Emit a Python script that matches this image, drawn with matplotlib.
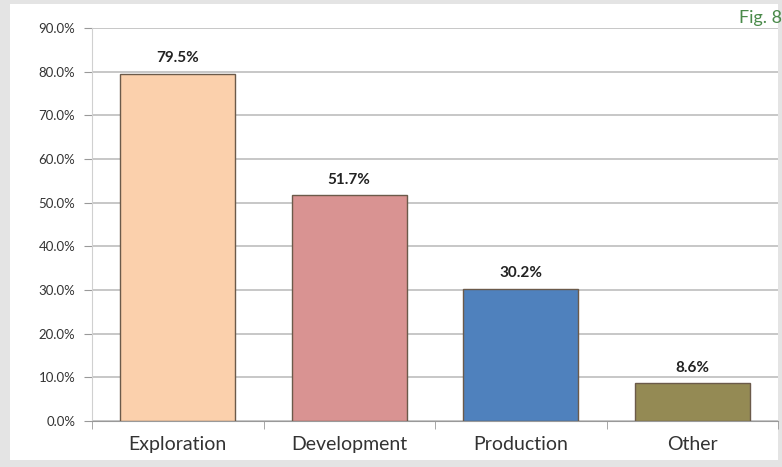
import matplotlib.pyplot as plt
from matplotlib.patches import Rectangle
from matplotlib.ticker import FuncFormatter, MultipleLocator

categories = ["Exploration", "Development", "Production", "Other"]
values = [79.5, 51.7, 30.2, 8.6]
colors = ["#FBD0AC", "#D99392", "#4F81BD", "#948A54"]

plt.rcParams['font.family'] = ['Lato', 'DejaVu Sans']

fig = plt.figure(figsize=(7.82, 4.67), dpi=100)
fig.patch.set_facecolor("#e4e4e4")
# white panel the chart sits on
fig.patches.append(Rectangle((10 / 782, 7 / 467), 768 / 782, 456 / 467,
                             transform=fig.transFigure, facecolor="white",
                             edgecolor="none", zorder=0))

ax = fig.add_axes([92 / 782, 46 / 467, 686 / 782, 393 / 467])
ax.set_facecolor("white")
ax.set_zorder(1)

x = range(len(categories))
ax.bar(x, values, width=0.67, color=colors, edgecolor="#6b5a4a",
       linewidth=1.0, zorder=3)

for i, v in zip(x, values):
    ax.text(i, v + 2.0, "%.1f%%" % v, ha="center", va="bottom",
            fontsize=11, fontweight="bold", color="#222222")

ax.set_xlim(-0.5, len(categories) - 0.5)
ax.set_ylim(0, 90)
ax.yaxis.set_major_locator(MultipleLocator(10))
ax.yaxis.set_major_formatter(FuncFormatter(lambda v, p: "%.1f%%" % v))
ax.grid(axis="y", color="#b8b8b8", linewidth=1.1, zorder=0)
ax.set_axisbelow(True)

ax.set_xticks(list(x))
ax.set_xticklabels(categories, fontsize=14, color="#333333")
ax.set_xticks([i + 0.5 for i in x][:-1] + [-0.5, len(categories) - 0.5], minor=True)
ax.tick_params(axis="x", which="major", length=0, pad=11)
ax.tick_params(axis="x", which="minor", length=6, color="#999999")
ax.tick_params(axis="y", labelsize=9.5, labelcolor="#333333", length=6,
               color="#999999", pad=6)

for s in ["top", "right"]:
    ax.spines[s].set_visible(False)
ax.spines["left"].set_color("#d0d0d0")
ax.spines["bottom"].set_color("#999999")

fig.text(739 / 782, 1 - 18 / 467, "Fig. 8", color="#4a8a4a", fontsize=13,
         ha="left", va="center")

fig.savefig("out.png", dpi=100, facecolor=fig.get_facecolor())
